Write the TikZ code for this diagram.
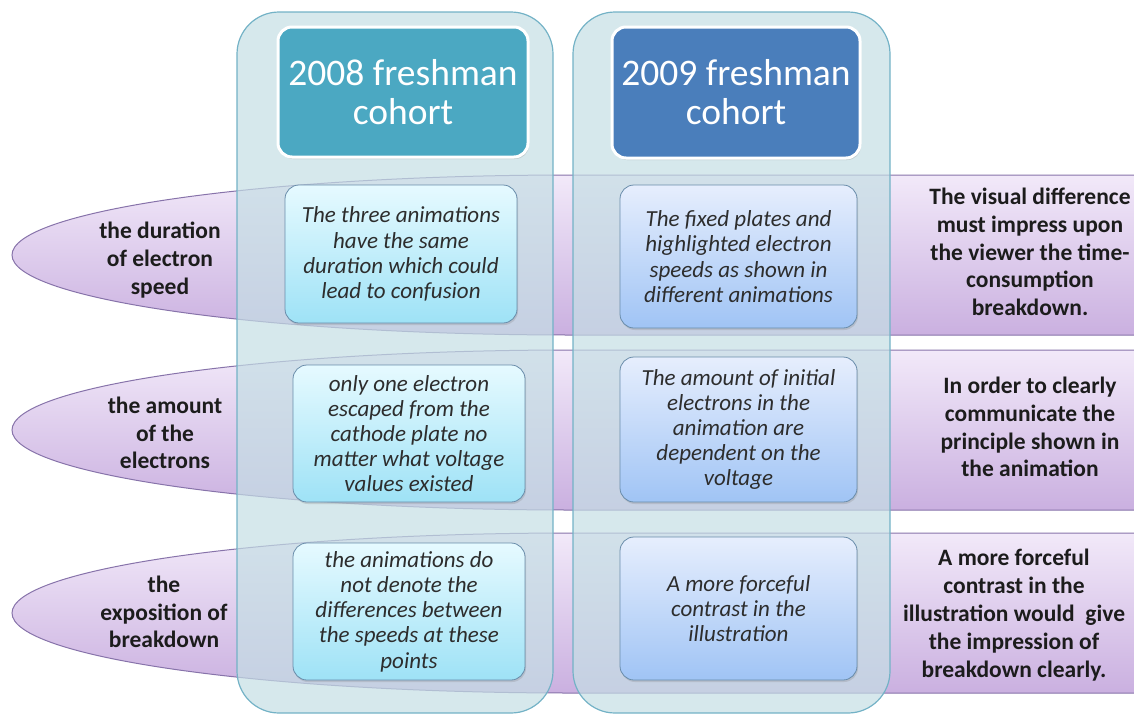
\documentclass[tikz,border=0pt]{standalone}
\usepackage{fontspec}
\setmainfont{Carlito}
\usetikzlibrary{shadows}
\definecolor{bandtop}{RGB}{242,233,249}
\definecolor{bandbot}{RGB}{202,176,224}
\definecolor{bandline}{RGB}{135,115,170}
\definecolor{colfill}{RGB}{196,222,228}
\definecolor{colline}{RGB}{115,178,198}
\definecolor{hdrA}{RGB}{75,168,194}
\definecolor{hdrB}{RGB}{74,126,187}
\definecolor{boxAtop}{RGB}{230,250,255}
\definecolor{boxAbot}{RGB}{158,226,246}
\definecolor{boxBtop}{RGB}{230,238,253}
\definecolor{boxBbot}{RGB}{160,196,245}
\definecolor{boxline}{RGB}{105,140,170}
\definecolor{txt}{RGB}{28,28,28}
\definecolor{boxtxt}{RGB}{45,45,45}
\tikzset{
  band/.style={draw=bandline, line width=1pt, top color=bandtop, bottom color=bandbot},
  column/.style={draw=colline, line width=1.2pt, fill=colfill, fill opacity=0.7, rounded corners=42pt},
  header/.style={draw=white, line width=3pt, rounded corners=14pt, text=white,
     font=\fontsize{37.5}{39}\selectfont, align=center, inner sep=0pt,
     drop shadow={opacity=0.3, shadow xshift=1pt, shadow yshift=-2pt}},
  cbox/.style={draw=boxline, line width=0.8pt, rounded corners=14pt, text=boxtxt,
     font=\fontsize{23}{25.2}\selectfont\itshape, align=center, inner sep=0pt,
     drop shadow={opacity=0.25, shadow xshift=1pt, shadow yshift=-2pt}},
  boxA/.style={cbox, top color=boxAtop, bottom color=boxAbot},
  boxB/.style={cbox, top color=boxBtop, bottom color=boxBbot},
  lbl/.style={text=txt, font=\fontsize{23.5}{27.8}\selectfont\bfseries, align=center, inner sep=0pt},
}
\begin{document}
\begin{tikzpicture}[x=1pt,y=-1pt]
\useasboundingbox (0,0) rectangle (1134,715);
\clip (0,0) rectangle (1134,715);
% bands
\path[band] (572,175) arc[start angle=90,end angle=270,x radius=560pt,y radius=80pt] -- (1140,335) -- (1140,175) -- cycle;
\path[band] (572,350) arc[start angle=90,end angle=270,x radius=560pt,y radius=80pt] -- (1140,510) -- (1140,350) -- cycle;
\path[band] (572,533) arc[start angle=90,end angle=270,x radius=560pt,y radius=80pt] -- (1140,693) -- (1140,533) -- cycle;
% columns
\draw[column] (237,12) rectangle (553,713);
\draw[column] (573,12) rectangle (890,713);
% headers
\node[header, fill=hdrA, minimum width=250pt, minimum height=130pt] (hA) at (403,92) {2008 freshman\\cohort};
\node[header, fill=hdrB, minimum width=248pt, minimum height=131pt] (hB) at (736,92.5) {2009 freshman\\cohort};
% content boxes
\node[boxA, minimum width=232pt, minimum height=138pt] (a1) at (401,254) {The three animations\\have the same\\duration which could\\lead to confusion};
\node[boxB, minimum width=237pt, minimum height=143pt] (b1) at (738.5,256.5) {The fixed plates and\\highlighted electron\\speeds as shown in\\different animations};
\node[boxA, minimum width=232pt, minimum height=137pt] (a2) at (409,433.5) {only one electron\\escaped from the\\cathode plate no\\matter what voltage\\values existed};
\node[boxB, minimum width=237pt, minimum height=145pt] (b2) at (738.5,429.5) {The amount of initial\\electrons in the\\animation are\\dependent on the\\voltage};
\node[boxA, minimum width=232pt, minimum height=137pt] (a3) at (409,611.5) {the animations do\\not denote the\\differences between\\the speeds at these\\points};
\node[boxB, minimum width=237pt, minimum height=143pt] (b3) at (738.5,608.5) {A more forceful\\contrast in the\\illustration};
% left labels
\node[lbl] (l1) at (160,260) {the duration\\of electron\\speed};
\node[lbl] (l2) at (165,433) {the amount\\of the\\electrons};
\node[lbl] (l3) at (164,612) {the\\exposition of\\breakdown};
% right labels
\node[lbl] (r1) at (1030,252) {The visual difference\\must impress upon\\the viewer the time-\\consumption\\breakdown.};
\node[lbl] (r2) at (1030,427) {In order to clearly\\communicate the\\principle shown in\\the animation};
\node[lbl] (r3) at (1014,615) {A more forceful\\contrast in the\\illustration would~ give\\the impression of\\breakdown clearly.};
\end{tikzpicture}
\end{document}
